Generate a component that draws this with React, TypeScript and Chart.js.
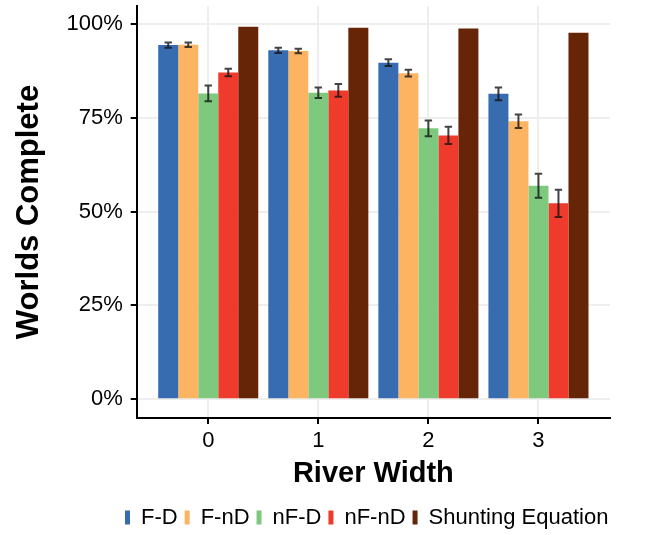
import React, { useEffect, useRef } from "react";
import { Chart, registerables } from "chart.js";

Chart.register(...registerables);

const categories = ["0", "1", "2", "3"];
const seriesNames = ["F-D", "F-nD", "nF-D", "nF-nD", "Shunting Equation"];
const seriesColors = ["#386CB0", "#FDB462", "#7FC97F", "#EF3B2C", "#662506"];

const fdValues = [94.4, 93.0, 89.7, 81.4];
const fndValues = [94.5, 92.8, 86.9, 74.1];
const nfdValues = [81.5, 81.7, 72.2, 56.9];
const nfndValues = [87.1, 82.3, 70.3, 52.2];
const shuntValues = [99.3, 99.0, 98.8, 97.7];

const fdErr = [0.7, 0.7, 0.9, 1.7];
const fndErr = [0.6, 0.6, 0.9, 1.8];
const nfdErr = [2.1, 1.4, 2.1, 3.2];
const nfndErr = [1.0, 1.7, 2.3, 3.6];
const shuntErr: (number | null)[] = [null, null, null, null];

const yTickValues = [0, 25, 50, 75, 100];

const allValues = [fdValues, fndValues, nfdValues, nfndValues, shuntValues];
const allErrors = [fdErr, fndErr, nfdErr, nfndErr, shuntErr];

const FONT = "'Liberation Sans', Arial, Helvetica, sans-serif";

const errorBarPlugin = {
  id: "errorBars",
  afterDatasetsDraw(chart: any) {
    const ctx = chart.ctx;
    const yScale = chart.scales.y;
    ctx.save();
    ctx.strokeStyle = "rgba(20,20,20,0.8)";
    ctx.lineWidth = 2;
    chart.data.datasets.forEach((ds: any, di: number) => {
      const meta = chart.getDatasetMeta(di);
      const errs = allErrors[di];
      meta.data.forEach((bar: any, i: number) => {
        const e = errs[i];
        if (e == null) return;
        const v = allValues[di][i];
        const x = bar.x;
        const yTop = yScale.getPixelForValue(v + e);
        const yBot = yScale.getPixelForValue(v - e);
        const cap = 3.7;
        ctx.beginPath();
        ctx.moveTo(x, yTop);
        ctx.lineTo(x, yBot);
        ctx.moveTo(x - cap, yTop);
        ctx.lineTo(x + cap, yTop);
        ctx.moveTo(x - cap, yBot);
        ctx.lineTo(x + cap, yBot);
        ctx.stroke();
      });
    });
    ctx.restore();
  },
};

const legendShiftPlugin = {
  id: "legendShift",
  afterLayout(chart: any) {
    const lg = chart.legend;
    if (!lg || !lg.lineWidths) return;
    const pad = lg.options.labels.padding;
    const start = (lg.left + pad + lg.right - lg.lineWidths[0]) / 2;
    const dx = 125 - start;
    lg.left += dx;
    lg.right += dx;
    const h = lg.height;
    lg.top = 499.5;
    lg.bottom = lg.top + h;
  },
};

export default function App() {
  const canvasRef = useRef<HTMLCanvasElement | null>(null);

  useEffect(() => {
    if (!canvasRef.current) return;
    const datasets = seriesNames.map((name, si) => ({
      label: name,
      data: allValues[si].map((v, i) => ({ x: i, y: v })),
      backgroundColor: seriesColors[si],
      borderWidth: 0,
      categoryPercentage: 0.909,
      barPercentage: 1.0,
    }));

    const chart = new Chart(canvasRef.current, {
      type: "bar",
      data: { datasets },
      plugins: [errorBarPlugin, legendShiftPlugin],
      options: {
        animation: false,
        responsive: false,
        layout: { padding: { left: 0, right: 37, top: 6, bottom: 0 } },
        plugins: {
          tooltip: { enabled: false },
          legend: {
            position: "bottom",
            align: "center",
            labels: {
              boxWidth: 5,
              boxHeight: 14,
              padding: 7,
              color: "#000",
              font: { family: FONT, size: 22 },
            },
          },
        },
        scales: {
          x: {
            type: "linear",
            min: -0.65,
            max: 3.65,
            offset: false,
            afterBuildTicks: (scale: any) => {
              scale.ticks = categories.map((_, i) => ({ value: i }));
            },
            afterFit: (scale: any) => {
              scale.height = 78;
              scale.paddingLeft = 0;
              scale.paddingRight = 0;
            },
            ticks: {
              callback: (v: any) => categories[v] ?? "",
              color: "#000",
              padding: 4,
              maxRotation: 0,
              autoSkip: false,
              font: { family: FONT, size: 22 },
            },
            grid: {
              offset: false,
              color: "#EEEEEE",
              lineWidth: 2,
              drawTicks: true,
              tickLength: 6,
              tickColor: "#000",
              tickWidth: 2,
            },
            border: { display: true, color: "#000", width: 2 },
            title: {
              display: true,
              text: "River Width",
              color: "#000",
              font: { family: FONT, size: 29, weight: "bold" },
              padding: { top: 0, bottom: 5 },
            },
          },
          y: {
            type: "linear",
            min: -5,
            max: 104.8,
            afterBuildTicks: (scale: any) => {
              scale.ticks = yTickValues.map((v) => ({ value: v }));
            },
            afterFit: (scale: any) => {
              scale.width = 136.7;
              scale.paddingTop = 0;
              scale.paddingBottom = 0;
            },
            ticks: {
              callback: (v: any) => v + "%",
              color: "#000",
              padding: 8,
              font: { family: FONT, size: 22 },
            },
            grid: {
              color: "#EEEEEE",
              lineWidth: 2,
              drawTicks: true,
              tickLength: 6,
              tickColor: "#000",
              tickWidth: 2,
            },
            border: { display: true, color: "#000", width: 2 },
            title: {
              display: true,
              text: "Worlds Complete",
              color: "#000",
              font: { family: FONT, size: 31, weight: "bold" },
              padding: { top: 11, bottom: 0 },
            },
          },
        },
      },
    } as any);
    return () => chart.destroy();
  }, []);

  return (
    <div style={{ position: "fixed", left: 0, top: 0, width: 647, height: 535, background: "#fff" }}>
      <canvas ref={canvasRef} width={647} height={535} style={{ display: "block" }} />
    </div>
  );
}
